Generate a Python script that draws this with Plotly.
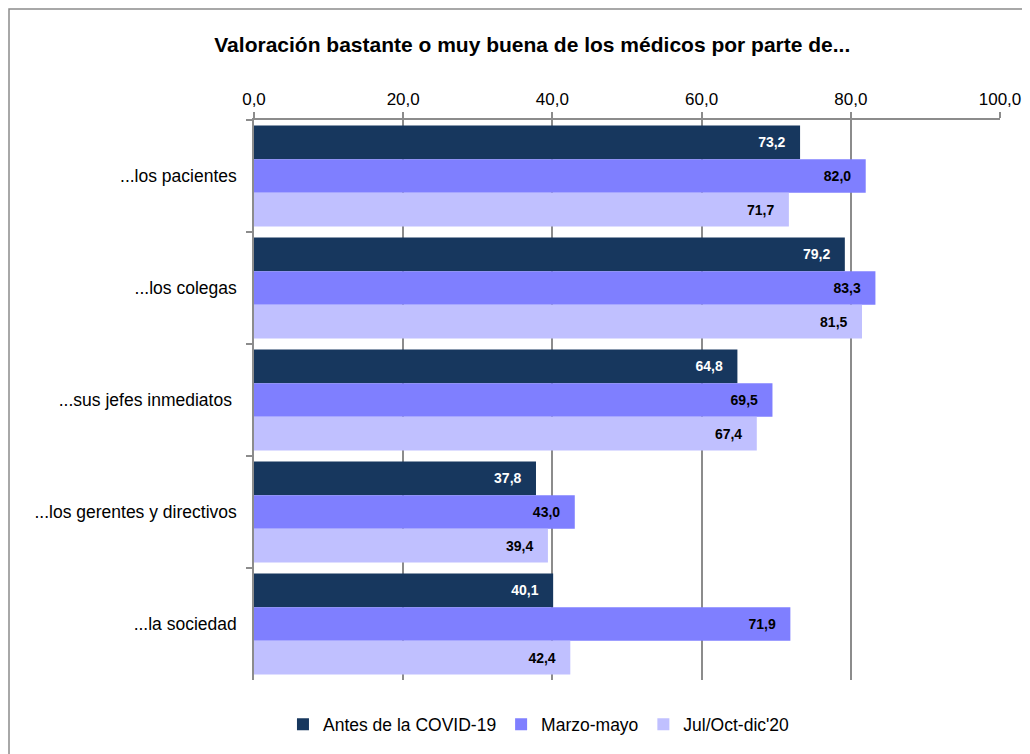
import plotly.graph_objects as go

categories = ["...los pacientes", "...los colegas", "...sus jefes inmediatos ",
              "...los gerentes y directivos", "...la sociedad"]
antes = [73.2, 79.2, 64.8, 37.8, 40.1]
marzo = [82.0, 83.3, 69.5, 43.0, 71.9]
julio = [71.7, 81.5, 67.4, 39.4, 42.4]
series_names = ["Antes de la COVID-19", "Marzo-mayo", "Jul/Oct-dic'20"]
tick_vals = [0, 20, 40, 60, 80, 100]
tick_text = ["0,0", "20,0", "40,0", "60,0", "80,0", "100,0"]

colors = ["#17375E", "#7F7FFF", "#C0C0FF"]
text_colors = ["white", "black", "black"]
FONT = "Liberation Sans Narrow, Arial Narrow, Liberation Sans, Arial, sans-serif"
GRID = "#8C8C8C"

L, T, R, B = 246, 112, 38, 82
W, H = 1030, 754
PW, PH = W - L - R, H - T - B

fig = go.Figure()
for name, vals, c, tc in zip(series_names, [antes, marzo, julio], colors, text_colors):
    fig.add_trace(go.Bar(
        y=categories, x=vals, name=name, orientation="h",
        marker=dict(color=c, line=dict(width=0)),
        text=[f"{v:.1f}".replace(".", ",") + "\u00a0\u00a0\u00a0" for v in vals],
        textposition="inside", insidetextanchor="end",
        textfont=dict(family=FONT, size=14, color=tc, weight="bold"),
        hoverinfo="skip",
    ))

fig.update_layout(
    width=W, height=H,
    margin=dict(l=L, r=R, t=T, b=B),
    paper_bgcolor="white", plot_bgcolor="white",
    barmode="group", bargap=0.1, bargroupgap=0,
    title=dict(text="<b>Valoración bastante o muy buena de los médicos por parte de...</b>",
               x=0.509, xanchor="center", y=1 - 37 / H, yanchor="middle",
               font=dict(family=FONT, size=21, color="black")),
    font=dict(family=FONT, color="black"),
    xaxis=dict(side="top", range=[0, 100], tickvals=tick_vals, ticktext=tick_text,
               showgrid=True, gridcolor=GRID, gridwidth=1.5,
               showline=True, linecolor=GRID, linewidth=1.5,
               ticks="outside", ticklen=6, tickcolor=GRID, tickwidth=1.5,
               tickfont=dict(family=FONT, size=17, color="black"),
               zeroline=False, fixedrange=True),
    xaxis2=dict(overlaying="x", anchor="y", side="bottom", matches="x",
                range=[0, 100], tickvals=tick_vals, showticklabels=False,
                ticks="outside", ticklen=7, tickcolor=GRID, tickwidth=1.5,
                showgrid=False, showline=False, zeroline=False, fixedrange=True),
    yaxis=dict(autorange="reversed", showline=True, linecolor=GRID, linewidth=1.5,
               ticks="outside", ticklen=6, tickcolor=GRID, tickwidth=1.5,
               tickson="boundaries", showgrid=False,
               tickfont=dict(family=FONT, size=17.5, color="black"),
               ticklabelstandoff=12, fixedrange=True),
    legend=dict(orientation="h", x=0.382, xanchor="center", y=-0.047, yanchor="top",
                font=dict(family=FONT, size=17.5, color="black"),
                itemwidth=30, traceorder="normal"),
    shapes=[dict(type="rect", xref="paper", yref="paper",
                 x0=(1 - L) / PW, x1=(W + 20 - L) / PW,
                 y0=(H - B - (H + 20)) / PH, y1=(H - B - 1) / PH,
                 line=dict(color=GRID, width=1.5), fillcolor="rgba(0,0,0,0)",
                 layer="below")],
)

fig.write_html("out.html")
